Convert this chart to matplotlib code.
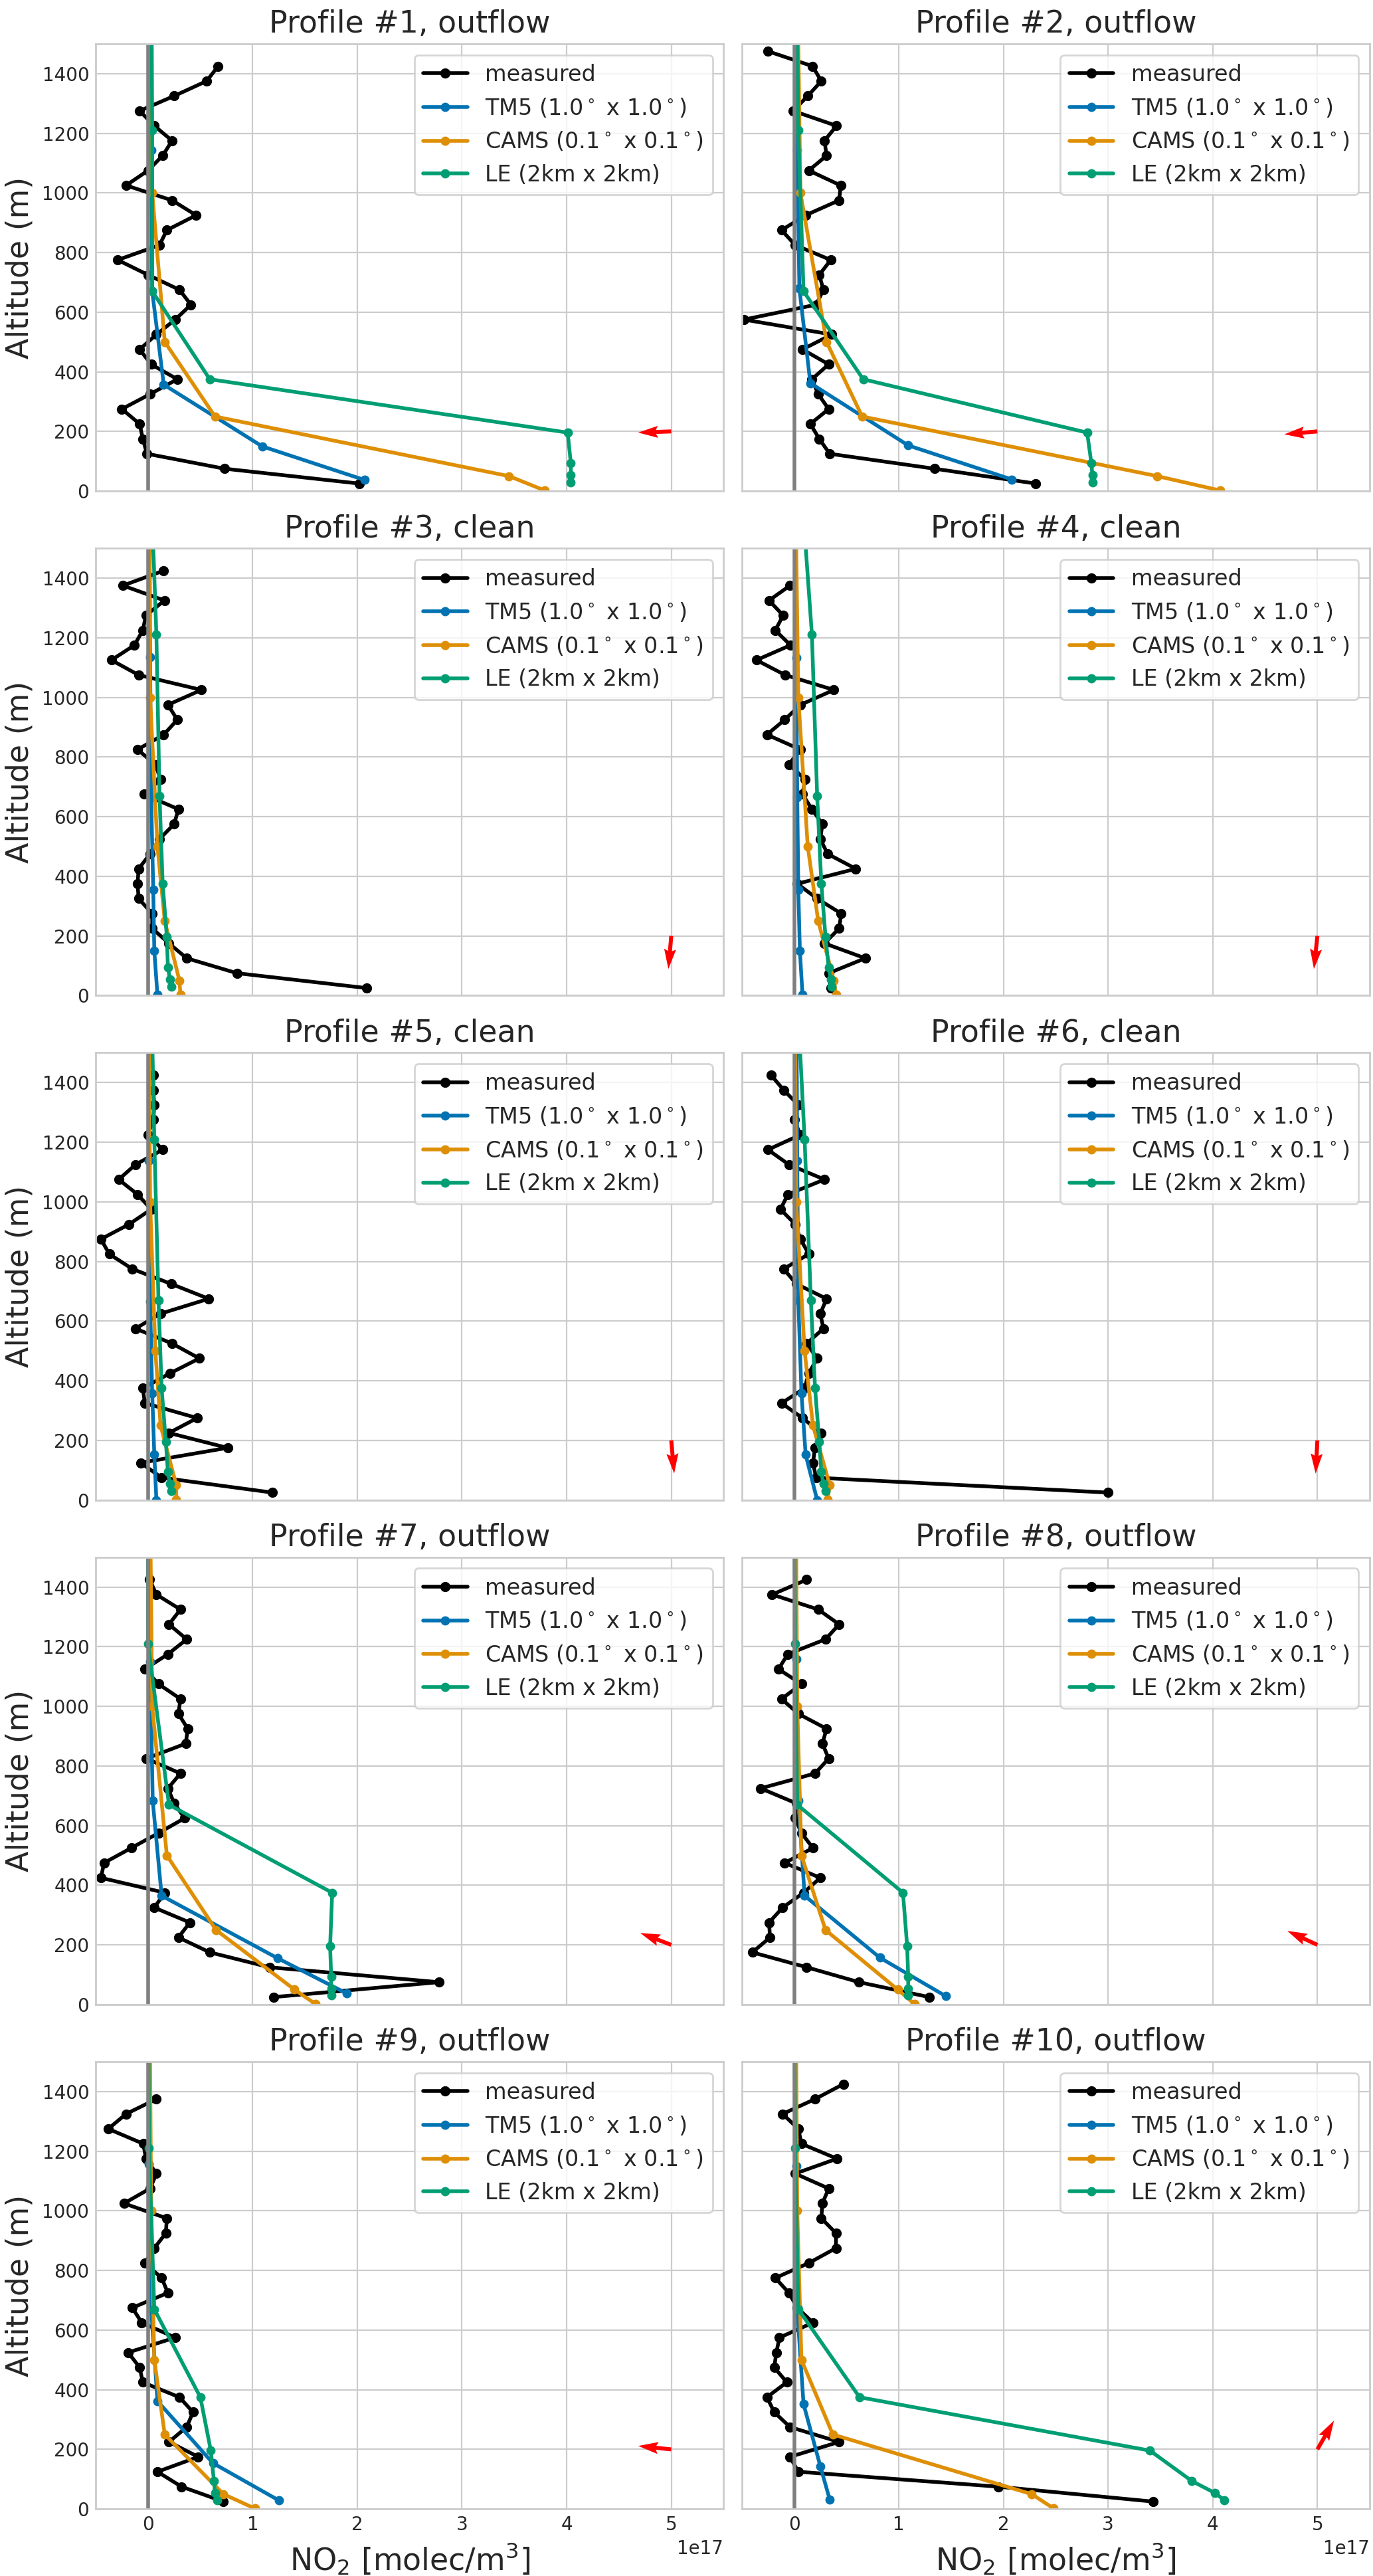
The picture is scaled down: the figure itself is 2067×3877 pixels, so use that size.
import numpy as np
import matplotlib
matplotlib.use('Agg')
import matplotlib.pyplot as plt

#%%
# data, concentrations in units of 1e17 molec/m3

titles = ['Profile #1, outflow', 'Profile #2, outflow',
          'Profile #3, clean', 'Profile #4, clean',
          'Profile #5, clean', 'Profile #6, clean',
          'Profile #7, outflow', 'Profile #8, outflow',
          'Profile #9, outflow', 'Profile #10, outflow']

# measurement altitudes (m), bottom up
meas_alt = [25, 75, 125, 175, 225, 275, 325, 375, 425, 475, 525, 575, 625, 675,
            725, 775, 825, 875, 925, 975, 1025, 1075, 1125, 1175, 1225, 1275,
            1325, 1375, 1425, 1475]

measured = [
    [2.02, 0.73, -0.01, -0.05, -0.08, -0.25, 0.02, 0.28, 0.03, -0.08, 0.08, 0.26, 0.41, 0.30, 0.0,
     -0.29, 0.11, 0.18, 0.46, 0.23, -0.21, 0.0, 0.14, 0.23, 0.06, -0.08, 0.25, 0.56, 0.67],
    [2.31, 1.34, 0.34, 0.24, 0.155, 0.33, 0.23, 0.17, 0.33, 0.08, 0.36, -0.48, 0.21, 0.28, 0.24,
     0.35, 0.01, -0.12, 0.11, 0.43, 0.445, 0.14, 0.31, 0.29, 0.405, -0.01, 0.13, 0.26, 0.175, -0.25],
    [2.09, 0.85, 0.37, 0.20, 0.04, 0.04, -0.09, -0.10, -0.09, 0.02, 0.11, 0.25, 0.29, -0.04, 0.12,
     0.07, -0.10, 0.15, 0.28, 0.19, 0.51, -0.09, -0.35, -0.13, -0.05, -0.02, 0.157, -0.24, 0.15],
    [0.35, 0.33, 0.68, 0.29, 0.43, 0.45, 0.22, 0.03, 0.59, 0.32, 0.25, 0.27, 0.17, 0.08, 0.105,
     -0.05, 0.06, -0.26, -0.09, 0.06, 0.38, -0.086, -0.36, -0.035, -0.18, -0.105, -0.24, -0.04],
    [1.19, 0.13, -0.07, 0.76, 0.20, 0.47, -0.03, -0.05, 0.21, 0.49, 0.23, -0.12, 0.12, 0.58, 0.22,
     -0.15, -0.37, -0.45, -0.18, 0.03, -0.10, -0.28, -0.12, 0.14, 0.0, 0.05, 0.06, 0.05, 0.05],
    [3.0, 0.21, 0.18, 0.20, 0.26, 0.08, -0.12, 0.10, 0.14, 0.22, 0.12, 0.28, 0.25, 0.31, 0.02,
     -0.10, 0.14, 0.06, 0.01, -0.13, -0.06, 0.29, -0.05, -0.25, 0.06, 0.0, 0.04, -0.10, -0.22],
    [1.20, 2.78, 1.16, 0.59, 0.29, 0.40, 0.06, 0.16, -0.45, -0.42, -0.16, 0.10, 0.35, 0.25, 0.19,
     0.31, -0.015, 0.36, 0.38, 0.29, 0.31, 0.10, -0.03, 0.19, 0.37, 0.20, 0.31, 0.08, 0.015],
    [1.29, 0.62, 0.12, -0.40, -0.23, -0.24, -0.11, 0.09, 0.25, -0.09, 0.18, 0.07, 0.01, 0.02, -0.32,
     0.20, 0.33, 0.27, 0.31, 0.04, -0.12, 0.07, -0.15, -0.06, 0.30, 0.43, 0.23, -0.21, 0.12],
    [0.72, 0.32, 0.09, 0.48, 0.20, 0.37, 0.43, 0.30, -0.05, -0.08, -0.19, 0.26, -0.06, -0.15, 0.19,
     0.13, -0.03, 0.06, 0.17, 0.18, -0.23, 0.02, 0.08, -0.02, -0.045, -0.38, -0.21, 0.08],
    [3.43, 1.95, 0.04, -0.04, 0.43, -0.04, -0.19, -0.26, -0.07, -0.19, -0.17, -0.14, 0.18, 0.03, -0.05,
     -0.18, 0.14, 0.40, 0.40, 0.26, 0.27, 0.33, 0.01, 0.41, 0.07, 0.04, -0.11, 0.20, 0.47],
]

# TM5 (1x1 deg)
tm5_alt = [[37, 150, 357, 670, 1144, 1800],
           [39, 153, 362, 679, 1144, 1800],
           [2, 150, 355, 665, 1134, 1800],
           [2, 150, 355, 665, 1132, 1800],
           [0, 153, 358, 665, 1137, 1800],
           [0, 152, 358, 670, 1137, 1800],
           [37, 155, 365, 683, 1150, 1800],
           [28, 157, 365, 685, 1159, 1800],
           [29, 154, 362, 672, 1156, 1800],
           [32, 144, 352, 667, 1150, 1800]]
tm5 = [[2.07, 1.09, 0.15, 0.04, 0.03, 0.02],
       [2.08, 1.09, 0.155, 0.05, 0.03, 0.02],
       [0.09, 0.06, 0.05, 0.03, 0.02, 0.01],
       [0.08, 0.055, 0.04, 0.03, 0.02, 0.01],
       [0.08, 0.06, 0.04, 0.02, 0.01, 0.01],
       [0.22, 0.11, 0.07, 0.04, 0.03, 0.02],
       [1.90, 1.24, 0.13, 0.045, 0.02, 0.01],
       [1.45, 0.82, 0.10, 0.04, 0.02, 0.01],
       [1.25, 0.62, 0.09, 0.03, 0.01, 0.01],
       [0.34, 0.25, 0.09, 0.03, 0.02, 0.01]]

# CAMS (0.1x0.1 deg)
cams_alt = [2, 50, 250, 500, 1000, 2000]
cams = [[3.79, 3.45, 0.64, 0.16, 0.04, 0.02],
        [4.07, 3.47, 0.65, 0.31, 0.06, 0.02],
        [0.31, 0.30, 0.16, 0.09, 0.02, 0.0],
        [0.40, 0.38, 0.23, 0.13, 0.04, 0.0],
        [0.27, 0.27, 0.12, 0.07, 0.02, 0.0],
        [0.32, 0.34, 0.18, 0.10, 0.02, 0.0],
        [1.60, 1.40, 0.65, 0.18, 0.04, 0.01],
        [1.15, 0.99, 0.30, 0.07, 0.03, 0.01],
        [1.02, 0.72, 0.16, 0.06, 0.03, 0.01],
        [2.48, 2.27, 0.37, 0.07, 0.03, 0.01]]

# LOTOS-EUROS (2km x 2km)
le_alt = [30, 54, 94, 196, 375, 670, 1210, 1900]
le = [[4.04, 4.04, 4.04, 4.01, 0.59, 0.04, 0.04, 0.03],
      [2.85, 2.85, 2.84, 2.80, 0.66, 0.09, 0.04, 0.02],
      [0.22, 0.21, 0.19, 0.18, 0.14, 0.11, 0.08, 0.01],
      [0.36, 0.35, 0.33, 0.30, 0.26, 0.22, 0.17, 0.03],
      [0.22, 0.21, 0.19, 0.17, 0.13, 0.10, 0.06, 0.02],
      [0.30, 0.28, 0.26, 0.24, 0.20, 0.16, 0.10, 0.0],
      [1.75, 1.75, 1.75, 1.74, 1.76, 0.20, 0.0, 0.0],
      [1.09, 1.09, 1.09, 1.08, 1.04, 0.03, 0.01, 0.0],
      [0.66, 0.64, 0.63, 0.60, 0.50, 0.06, 0.01, 0.0],
      [4.11, 4.02, 3.80, 3.40, 0.625, 0.04, 0.01, 0.0]]

# wind direction arrow (screen angle, degrees)
wind_dir = [182, 185, 265, 264, 275, 267, 159, 155, 174, 60]

#%%

plt.style.use('seaborn-v0_8-whitegrid')
plt.rcParams['font.family'] = ['DejaVu Sans']
plt.rcParams['legend.frameon'] = True

c_tm5 = '#0173b2'
c_cams = '#de8f05'
c_le = '#029e73'

fig, axes = plt.subplots(5, 2, figsize=(10.335, 19.385), dpi=200,
                         sharex=True, sharey=True)
axes = axes.ravel()

for i, ax in enumerate(axes):
    m = np.array(measured[i]) * 1e17
    ax.plot(m, meas_alt[:len(m)], 'o-', color='black', lw=2, ms=4.5, label='measured')
    ax.plot(np.array(tm5[i]) * 1e17, tm5_alt[i], 'o-', color=c_tm5, lw=2, ms=4,
            label='TM5 (1.0$^\\circ$ x 1.0$^\\circ$)')
    ax.plot(np.array(cams[i]) * 1e17, cams_alt, 'o-', color=c_cams, lw=2, ms=4,
            label='CAMS (0.1$^\\circ$ x 0.1$^\\circ$)')
    ax.plot(np.array(le[i]) * 1e17, le_alt, 'o-', color=c_le, lw=2, ms=4,
            label='LE (2km x 2km)')
    ax.axvline(0, color='grey', lw=2)

    a = np.deg2rad(wind_dir[i])
    ax.quiver(5e17, 200, np.cos(a), np.sin(a), color='red', angles='uv',
              scale_units='inches', scale=4, units='inches', width=0.03, zorder=5)

    ax.set_xlim(-0.5e17, 5.5e17)
    ax.set_ylim(0, 1500)
    ax.set_title(titles[i], fontsize=16.5)
    ax.tick_params(labelsize=10)
    ax.xaxis.get_offset_text().set_fontsize(10)
    ax.legend(loc='upper right', fontsize=12)
    if i % 2 == 0:
        ax.set_ylabel('Altitude (m)', fontsize=16.5)
    if i >= 8:
        ax.set_xlabel('NO$_2$ [molec/m$^3$]', fontsize=16.5)

fig.subplots_adjust(left=0.0697, right=0.9976, top=0.983, bottom=0.026,
                    hspace=0.128, wspace=0.029)
fig.savefig('out.png', dpi=200)
